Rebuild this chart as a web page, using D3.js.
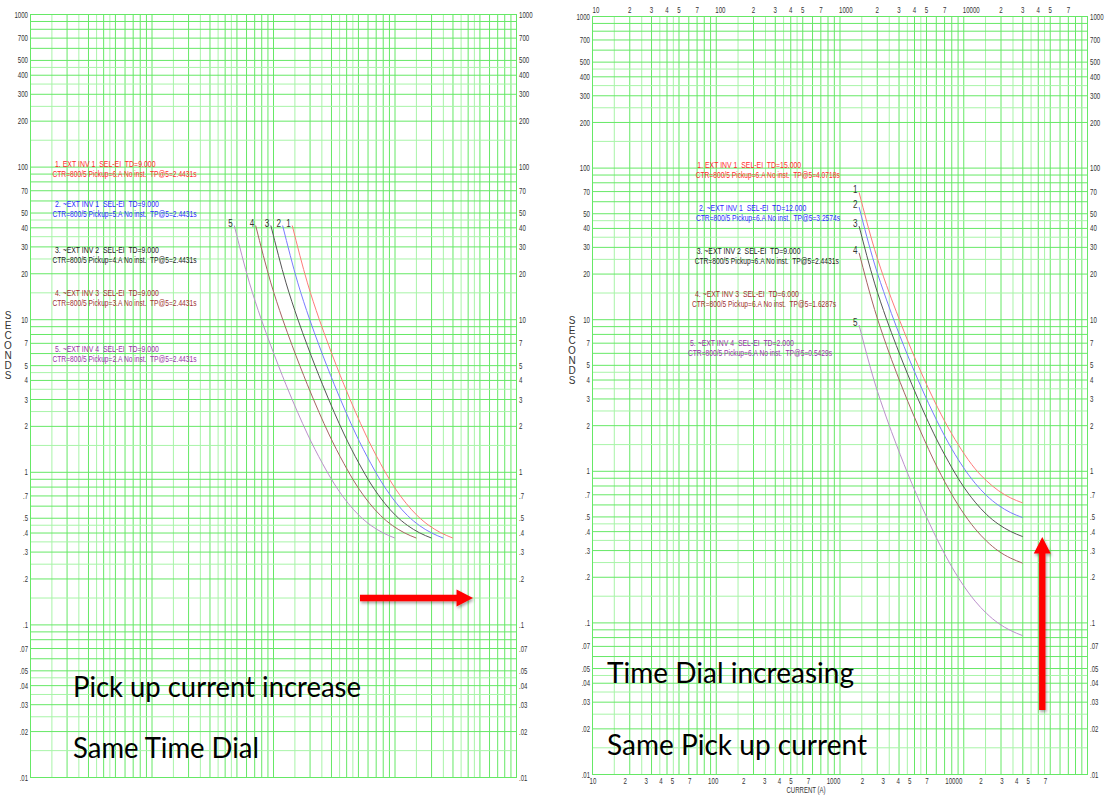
<!DOCTYPE html>
<html>
<head>
<meta charset="utf-8">
<script src="https://cdn.jsdelivr.net/npm/d3@7"></script>
<style>
  body { margin: 0; background: #fff; }
  svg text { font-family: "Liberation Sans", Arial, sans-serif; }
</style>
</head>
<body>
<svg id="chart" width="1107" height="796"></svg>
<script>
// ---- values ----
// left panel: same time dial (TD=9), pickup 6,5,4,3,2 A (x160 primary)
const leftSeconds = [41.1, 17.3, 10.0, 6.70, 3.72, 2.44, 1.77, 1.13, 0.832, 0.621, 0.517, 0.445, 0.399, 0.368];
const leftCurrent1 = [1440, 1920, 2400, 2880, 3840, 4800, 5760, 7680, 9600, 12480, 15360, 19200, 24000, 30240];
const leftCurrent2 = [1200, 1600, 2000, 2400, 3200, 4000, 4800, 6400, 8000, 10400, 12800, 16000, 20000, 25200];
const leftCurrent3 = [960, 1280, 1600, 1920, 2560, 3200, 3840, 5120, 6400, 8320, 10240, 12800, 16000, 20160];
const leftCurrent4 = [720, 960, 1200, 1440, 1920, 2400, 2880, 3840, 4800, 6240, 7680, 9600, 12000, 15120];
const leftCurrent5 = [480, 640, 800, 960, 1280, 1600, 1920, 2560, 3200, 4160, 5120, 6400, 8000, 10080];

// right panel: same pickup (6 A), time dial 15, 12, 9, 6, 2
const rightCurrent = [1440, 1920, 2400, 2880, 3840, 4800, 5760, 7680, 9600, 12480, 15360, 19200, 24000, 30240];
const rightSeconds1 = [68.6, 28.9, 16.7, 11.2, 6.20, 4.07, 2.96, 1.88, 1.39, 1.03, 0.862, 0.741, 0.664, 0.614];
const rightSeconds2 = [54.9, 23.1, 13.4, 8.93, 4.96, 3.26, 2.37, 1.50, 1.11, 0.827, 0.689, 0.593, 0.531, 0.491];
const rightSeconds3 = [41.1, 17.3, 10.0, 6.70, 3.72, 2.44, 1.77, 1.13, 0.832, 0.621, 0.517, 0.445, 0.399, 0.368];
const rightSeconds4 = [27.4, 11.6, 6.69, 4.46, 2.48, 1.63, 1.18, 0.751, 0.555, 0.414, 0.345, 0.296, 0.266, 0.246];
const rightSeconds5 = [9.14, 3.85, 2.23, 1.49, 0.826, 0.543, 0.394, 0.250, 0.185, 0.138, 0.115, 0.0988, 0.0886, 0.0818];

const curveNames = ["1", "2", "3", "4", "5"];

const leftLegend = [
  ["1. EXT INV 1  SEL-EI  TD=9.000", "CTR=800/5 Pickup=6.A No inst.  TP@5=2.4431s"],
  ["2. ~EXT INV 1  SEL-EI  TD=9.000", "CTR=800/5 Pickup=5.A No inst.  TP@5=2.4431s"],
  ["3. ~EXT INV 2  SEL-EI  TD=9.000", "CTR=800/5 Pickup=4.A No inst.  TP@5=2.4431s"],
  ["4. ~EXT INV 3  SEL-EI  TD=9.000", "CTR=800/5 Pickup=3.A No inst.  TP@5=2.4431s"],
  ["5. ~EXT INV 4  SEL-EI  TD=9.000", "CTR=800/5 Pickup=2.A No inst.  TP@5=2.4431s"]
];
const rightLegend = [
  ["1. EXT INV 1  SEL-EI  TD=15.000", "CTR=800/5 Pickup=6.A No inst.  TP@5=4.0718s"],
  ["2. ~EXT INV 1  SEL-EI  TD=12.000", "CTR=800/5 Pickup=6.A No inst.  TP@5=3.2574s"],
  ["3. ~EXT INV 2  SEL-EI  TD=9.000", "CTR=800/5 Pickup=6.A No inst.  TP@5=2.4431s"],
  ["4. ~EXT INV 3  SEL-EI  TD=6.000", "CTR=800/5 Pickup=6.A No inst.  TP@5=1.6287s"],
  ["5. ~EXT INV 4  SEL-EI  TD=2.000", "CTR=800/5 Pickup=6.A No inst.  TP@5=0.5429s"]
];

// tick labels
const yTicks = [1000, 700, 500, 400, 300, 200, 100, 70, 50, 40, 30, 20, 10, 7, 5, 4, 3, 2, 1,
  0.7, 0.5, 0.4, 0.3, 0.2, 0.1, 0.07, 0.05, 0.04, 0.03, 0.02, 0.01];
const xTicks = [10, 20, 30, 40, 50, 70, 100, 200, 300, 400, 500, 700, 1000, 2000, 3000, 4000, 5000, 7000,
  10000, 20000, 30000, 40000, 50000, 70000];
const gridSteps = [1, 1.5, 2, 2.5, 3, 3.5, 4, 4.5, 5, 6, 7, 8, 9];
const xDecades = [10, 100, 1000, 10000];
const yDecades = [0.01, 0.1, 1, 10, 100];

// arrows (current A, seconds)
const leftArrow = [[5200, 0.149], [44300, 0.149]];
const rightArrow = [[43500, 0.0264], [43500, 0.366]];

const curveColors = ["#ff7a7a", "#7a7aff", "#555555", "#a86262", "#bb8fcb"];
const legendColors = ["#ff2a2a", "#2a2aff", "#222222", "#a03030", "#9933a8"];
const gridDark = "#66e866";
const gridLight = "#a8f4a8";

const svg = d3.select("#chart");

const defs = svg.append("defs");
defs.append("filter").attr("id", "shadow")
  .attr("x", "-30%").attr("y", "-30%").attr("width", "160%").attr("height", "160%")
  .append("feDropShadow")
  .attr("dx", 1).attr("dy", 2).attr("stdDeviation", 1.5)
  .attr("flood-color", "#000").attr("flood-opacity", 0.35);

const xGrid = xDecades.flatMap(d => gridSteps.map(s => s * d)).concat([100000]);
const yGrid = yDecades.flatMap(d => gridSteps.map(s => +(s * d).toPrecision(3))).concat([1000]);
const isHalf = v => {
  const m = v / Math.pow(10, Math.floor(Math.log10(v) + 1e-9));
  return Math.abs(m - Math.round(m)) > 0.01;
};
const fmtY = d => d >= 1 ? String(d) : String(d).replace(/^0/, "");
const isDecade = d => /^10*$/.test(String(d));
const fmtX = d => isDecade(d) ? String(d) : String(d)[0];

// the chart's lettering is very condensed, squeeze the glyphs to that width
const charW = c => c === "." ? 1.5 : (c === " " ? 2 : 3.4);
const tickLen = s => d3.sum(s.split(""), charW);
function squeeze(sel, lenFn) {
  sel.attr("textLength", lenFn).attr("lengthAdjust", "spacingAndGlyphs");
}

function drawPanel(cfg) {
  const x = d3.scaleLog().domain([10, 100000]).range([cfg.left, cfg.right]);
  const y = d3.scaleLog().domain([0.01, 1000]).range([cfg.bottom, cfg.top]);
  const w = cfg.right - cfg.left, h = cfg.bottom - cfg.top;
  const g = svg.append("g");

  // grid lines
  const vg = g.append("g")
    .attr("transform", "translate(0," + cfg.bottom + ")")
    .call(d3.axisBottom(x).tickValues(xGrid).tickSize(-h).tickFormat(""));
  vg.select(".domain").remove();
  vg.selectAll(".tick line").attr("stroke", d => isHalf(d) ? gridLight : gridDark);

  const hg = g.append("g")
    .attr("transform", "translate(" + cfg.left + ",0)")
    .call(d3.axisLeft(y).tickValues(yGrid).tickSize(-w).tickFormat(""));
  hg.select(".domain").remove();
  hg.selectAll(".tick line").attr("stroke", d => isHalf(d) ? gridLight : gridDark);

  g.append("rect")
    .attr("x", cfg.left + 0.5).attr("y", cfg.top + 0.5)
    .attr("width", w).attr("height", h)
    .attr("fill", "none").attr("stroke", gridDark);

  // y labels both sides
  const yl = g.append("g")
    .attr("transform", "translate(" + cfg.left + ",0)")
    .call(d3.axisLeft(y).tickValues(yTicks).tickSize(0).tickPadding(2).tickFormat(fmtY));
  const yr = g.append("g")
    .attr("transform", "translate(" + cfg.right + ",0)")
    .call(d3.axisRight(y).tickValues(yTicks).tickSize(0).tickPadding(3).tickFormat(fmtY));
  [yl, yr].forEach(a => {
    a.select(".domain").remove();
    a.attr("font-family", null);
    const t = a.selectAll("text").attr("font-size", 9.5).attr("fill", "#333");
    squeeze(t, d => tickLen(fmtY(d)));
  });

  // SECONDS
  const sec = g.append("text").attr("font-size", 10).attr("fill", "#333").attr("text-anchor", "middle");
  "SECONDS".split("").forEach((c, i) => {
    sec.append("tspan").attr("x", cfg.secX).attr("y", cfg.secY + i * 10).text(c);
  });

  // x labels (right panel only)
  if (cfg.xLabels) {
    const xt = g.append("g")
      .attr("transform", "translate(0," + cfg.top + ")")
      .call(d3.axisTop(x).tickValues(xTicks).tickSize(0).tickPadding(3).tickFormat(fmtX));
    xt.select(".domain").remove();
    xt.attr("font-family", null);
    const tt = xt.selectAll("text").attr("font-size", 9.5).attr("fill", "#333")
      .attr("text-anchor", d => isDecade(d) ? "start" : "middle")
      .attr("dx", d => isDecade(d) && d > 10 ? -1 : 0);
    squeeze(tt, d => tickLen(fmtX(d)));

    // the bottom row of labels is printed on a slightly shorter scale than the grid
    const xLab = d3.scaleLog().domain([10, 100000]).range([cfg.left - 3, cfg.left - 3 + 4 * 118.6]);
    const xb = g.append("g")
      .attr("transform", "translate(0," + cfg.bottom + ")")
      .call(d3.axisBottom(xLab).tickValues(xTicks).tickSize(0).tickPadding(3).tickFormat(fmtX));
    xb.select(".domain").remove();
    xb.attr("font-family", null);
    const tb = xb.selectAll("text").attr("font-size", 9.5).attr("fill", "#333")
      .attr("text-anchor", d => isDecade(d) ? "start" : "middle");
    squeeze(tb, d => tickLen(fmtX(d)));

    g.append("text")
      .attr("x", 806).attr("y", 792.5)
      .attr("text-anchor", "middle").attr("font-size", 9.5).attr("fill", "#333")
      .attr("textLength", 39).attr("lengthAdjust", "spacingAndGlyphs")
      .text("CURRENT (A)");
  }

  // legend
  cfg.legend.forEach((lines, i) => {
    g.append("text").attr("x", cfg.legX1[i]).attr("y", cfg.legY[i] + 3)
      .attr("font-size", 9).attr("fill", legendColors[i]).attr("xml:space", "preserve")
      .attr("textLength", lines[0].length * 3.35).attr("lengthAdjust", "spacingAndGlyphs")
      .text(lines[0]);
    g.append("text").attr("x", cfg.legX2[i]).attr("y", cfg.legY[i] + 13)
      .attr("font-size", 9).attr("fill", legendColors[i]).attr("xml:space", "preserve")
      .attr("textLength", lines[1].length * 3.35).attr("lengthAdjust", "spacingAndGlyphs")
      .text(lines[1]);
  });

  // curves
  const line = d3.line().x(d => x(d[0])).y(d => y(d[1])).curve(d3.curveMonotoneX);
  cfg.curves.forEach((pts, i) => {
    g.append("path").datum(pts)
      .attr("d", line)
      .attr("fill", "none")
      .attr("stroke", curveColors[i])
      .attr("stroke-width", 1);
    g.append("text")
      .attr("x", x(pts[0][0]) - 1.5).attr("y", y(pts[0][1]) + 1)
      .attr("text-anchor", "end").attr("font-size", 10).attr("fill", "#333")
      .attr("textLength", 4.5).attr("lengthAdjust", "spacingAndGlyphs")
      .text(curveNames[i]);
  });

  // red arrow
  const a = cfg.arrow.map(p => [x(p[0]), y(p[1])]);
  const dx = a[1][0] - a[0][0], dy = a[1][1] - a[0][1];
  const len = Math.hypot(dx, dy), ux = dx / len, uy = dy / len, nx = -uy, ny = ux;
  const head = 16.5, hw = 8.5, sw = 3.2;
  const b = [a[1][0] - ux * head, a[1][1] - uy * head];
  const poly = [
    [a[0][0] + nx * sw, a[0][1] + ny * sw],
    [b[0] + nx * sw, b[1] + ny * sw],
    [b[0] + nx * hw, b[1] + ny * hw],
    a[1],
    [b[0] - nx * hw, b[1] - ny * hw],
    [b[0] - nx * sw, b[1] - ny * sw],
    [a[0][0] - nx * sw, a[0][1] - ny * sw]
  ];
  g.append("path")
    .attr("d", "M" + poly.map(p => p.join(",")).join("L") + "Z")
    .attr("fill", "#ff0000")
    .attr("filter", "url(#shadow)");

  // big notes
  cfg.notes.forEach(n => {
    g.append("text")
      .attr("x", n.x).attr("y", n.y)
      .attr("font-size", 28).attr("fill", "#000")
      .style("font-family", "Lato, 'Open Sans', sans-serif")
      .attr("textLength", n.w).attr("lengthAdjust", "spacingAndGlyphs")
      .text(n.text);
  });
}

drawPanel({
  left: 30, right: 516, top: 14, bottom: 777,
  secX: 8, secY: 319,
  xLabels: false,
  legend: leftLegend,
  legX1: [55, 55, 55, 55, 55],
  legX2: [52.5, 52.5, 52.5, 52.5, 52.5],
  legY: [164, 204.3, 250, 293.3, 349.3],
  curves: [leftCurrent1, leftCurrent2, leftCurrent3, leftCurrent4, leftCurrent5]
    .map(c => c.map((v, j) => [v, leftSeconds[j]])),
  arrow: leftArrow,
  notes: [
    { text: "Pick up current increase", x: 73, y: 697, w: 288 },
    { text: "Same Time Dial", x: 73, y: 758, w: 186 }
  ]
});

drawPanel({
  left: 592, right: 1087, top: 16, bottom: 774,
  secX: 572, secY: 324,
  xLabels: true,
  legend: rightLegend,
  legX1: [697.3, 699, 696.7, 695, 690],
  legX2: [695.7, 696, 694.7, 692, 688],
  legY: [165.3, 208.3, 250.7, 294, 342.7],
  curves: [rightSeconds1, rightSeconds2, rightSeconds3, rightSeconds4, rightSeconds5]
    .map(s => s.map((v, j) => [rightCurrent[j], v])),
  arrow: rightArrow,
  notes: [
    { text: "Time Dial increasing", x: 607, y: 683, w: 247 },
    { text: "Same Pick up current", x: 607, y: 755, w: 260 }
  ]
});
</script>
</body>
</html>
